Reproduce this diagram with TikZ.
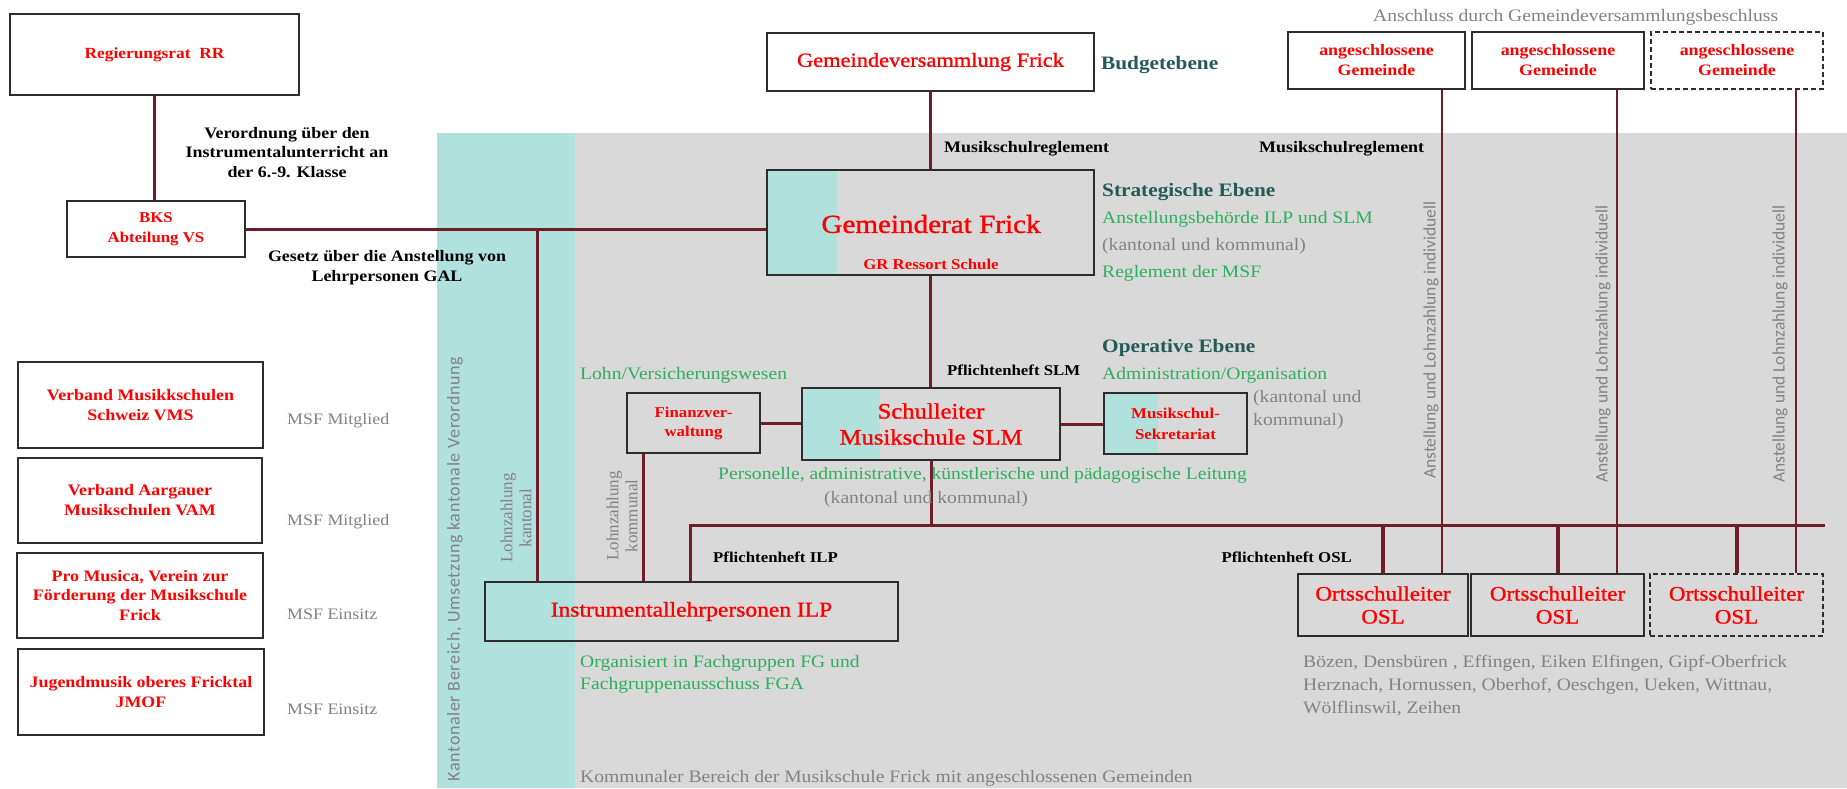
\documentclass[tikz,border=0pt]{standalone}
\usepackage{fontspec}
\setmainfont{Liberation Serif}[FakeStretch=1.12]
\newfontfamily\medf{Liberation Serif}[FakeStretch=1.12, FakeBold=1.2]
\newfontfamily\sansf{Carlito}
\newfontfamily\kantf{Carlito}[LetterSpace=3.5]
\newfontfamily\condf{Liberation Serif}
\newcommand\setfs[2]{\fontsize{#1}{#2}\selectfont}
\definecolor{cred}{RGB}{255,0,0}
\definecolor{cgreen}{RGB}{45,175,95}
\definecolor{cdteal}{RGB}{35,90,85}
\definecolor{cgray}{RGB}{130,130,130}
\definecolor{cline}{RGB}{110,30,40}
\definecolor{cteal}{RGB}{176,225,221}
\definecolor{cbg}{RGB}{217,217,217}
\definecolor{cbox}{RGB}{45,45,45}
\begin{document}
\begin{tikzpicture}[x=1pt,y=-1pt,
  box/.style={draw=cbox, line width=1.5pt, inner sep=0pt, align=center, text=cred},
  wbox/.style={box, fill=white},
  dbox/.style={wbox, dash pattern=on 5pt off 3pt},
  conn/.style={draw=cline, line width=3pt},
  connthin/.style={draw=cline, line width=2pt},
  connthick/.style={draw=cline, line width=4pt},
  txt/.style={inner sep=0pt},
  lbl/.style={inner sep=0pt, anchor=west, align=left},
  blk/.style={txt, font=\bfseries\setfs{16}{19.5}, text=black, align=center},
  grn/.style={lbl, text=cgreen, font=\setfs{17.5}{22}},
  gry/.style={lbl, text=cgray, font=\setfs{17.5}{23}},
  hdr/.style={lbl, text=cdteal, font=\bfseries\setfs{19}{22}},
  smb/.style={font=\bfseries\setfs{16}{20}},
  rot/.style={txt, rotate=90, text=cgray}
]
\useasboundingbox (0,0) rectangle (1847,788);
\fill[white] (0,0) rectangle (1847,788);
% background regions
\fill[cteal] (437,133) rectangle (575,788);
\fill[cbg] (575,133) rectangle (1847,788);
\fill[cteal] (767,170) rectangle (837,275);
\fill[cteal] (802,388) rectangle (880,460);
\fill[cteal] (1104,393) rectangle (1158,454);

% boxes
\node[wbox, minimum width=289, minimum height=81, font=\bfseries\setfs{15.5}{20}] (RR) at (154.5,54.5) {Regierungsrat\ \ RR};
\node[wbox, minimum width=178, minimum height=56, font=\bfseries\setfs{15}{20}] (BKS) at (156,229) {BKS\\Abteilung VS};
\node[wbox, minimum width=327, minimum height=58, font=\medf\setfs{20}{24}] (GV) at (930.5,62) {Gemeindeversammlung Frick};
\node[box, minimum width=327, minimum height=105] (GR) at (930.5,222.5) {};
\node[txt, text=cred, font=\medf\setfs{26}{30}] (GRt) at (931,224) {Gemeinderat Frick};
\node[txt, text=cred, font=\bfseries\setfs{15}{18}] (GRs) at (931,264) {GR Ressort Schule};
\node[box, minimum width=133, minimum height=60, font=\bfseries\setfs{15}{19}] (Fin) at (693.5,423) {Finanzver-\\waltung};
\node[box, minimum width=258, minimum height=72, font=\medf\setfs{22}{26}] (SL) at (931,424) {Schulleiter\\Musikschule SLM};
\node[box, minimum width=143, minimum height=61, font=\bfseries\setfs{15}{21}] (Sek) at (1175.5,423.5) {Musikschul-\\Sekretariat};
\node[box, minimum width=413, minimum height=59, font=\medf\setfs{21}{25}] (ILP) at (691.5,611.5) {Instrumentallehrpersonen ILP};
\node[box, minimum width=170, minimum height=62, font=\medf\setfs{20.5}{23}] (OSL1) at (1383,605) {Ortsschulleiter\\OSL};
\node[box, minimum width=173, minimum height=62, font=\medf\setfs{20.5}{23}] (OSL2) at (1557.5,605) {Ortsschulleiter\\OSL};
\node[box, dash pattern=on 5pt off 3pt, minimum width=173, minimum height=62, font=\medf\setfs{20.5}{23}] (OSL3) at (1736.5,605) {Ortsschulleiter\\OSL};
\node[wbox, smb, minimum width=177, minimum height=57] (AG1) at (1376.5,60.5) {angeschlossene\\Gemeinde};
\node[wbox, smb, minimum width=172, minimum height=57] (AG2) at (1558,60.5) {angeschlossene\\Gemeinde};
\node[dbox, smb, minimum width=172, minimum height=57] (AG3) at (1737,60.5) {angeschlossene\\Gemeinde};
\node[wbox, smb, minimum width=245, minimum height=86] (VMS) at (140.5,405) {Verband Musikkschulen\\Schweiz VMS};
\node[wbox, smb, minimum width=244, minimum height=85] (VAM) at (140,500.5) {Verband Aargauer\\Musikschulen VAM};
\node[wbox, smb, font=\bfseries\setfs{16}{19.5}, minimum width=246, minimum height=85] (PM) at (140,595.5) {Pro Musica, Verein zur\\Förderung der Musikschule\\Frick};
\node[wbox, smb, minimum width=246, minimum height=86] (JM) at (141,692) {Jugendmusik oberes Fricktal\\JMOF};

% connectors
\coordinate (jx) at (537,0);
\coordinate (kx) at (643,0);
\coordinate (busL) at (690,525);
\coordinate (busR) at (1825,525);
\coordinate (a1) at (1442,0);
\coordinate (a2) at (1617,0);
\coordinate (a3) at (1796,0);
\draw[conn] (RR.south) -- (RR.south |- BKS.north);
\draw[conn] (BKS.east) -- (BKS.east -| GR.west);
\draw[conn] (BKS.east -| jx) -- (ILP.north -| jx);
\draw[conn] (GV.south) -- (GR.north);
\draw[conn] (GR.south) -- (GR.south |- SL.north);
\draw[conn] (Fin.east) -- (Fin.east -| SL.west);
\draw[conn] (SL.east) -- (SL.east -| Sek.west);
\draw[conn] (Fin.south -| kx) -- (ILP.north -| kx);
\draw[conn] (SL.south) -- (SL.south |- busR);
\draw[conn] (busR) -- (busL) -- (busL |- ILP.north);
\draw[connthick] (OSL1.north) -- (OSL1.north |- busR);
\draw[connthick] (OSL2.north) -- (OSL2.north |- busR);
\draw[connthick] (OSL3.north) -- (OSL3.north |- busR);
\draw[connthin] (AG1.south -| a1) -- (OSL1.north -| a1);
\draw[connthin] (AG2.south -| a2) -- (OSL2.north -| a2);
\draw[connthin] (AG3.south -| a3) -- (OSL3.north -| a3);

% labels
\node[blk] (verord) at (287,152.5) {Verordnung über den\\Instrumentalunterricht an\\der 6.-9. Klasse};
\node[blk] (gesetz) at (387,267.5) {Gesetz über die Anstellung von\\Lehrpersonen GAL};
\node[lbl, text=cdteal, font=\bfseries\setfs{19}{22}] (budget) at (1101,65) {Budgetebene};
\node[lbl, font=\bfseries\setfs{16}{19}] (msr1) at (944,149) {Musikschulreglement};
\node[lbl, font=\bfseries\setfs{16}{19}] (msr2) at (1259,149) {Musikschulreglement};
\node[hdr] (strat) at (1102,192) {Strategische Ebene};
\node[grn] (anst) at (1102,219) {Anstellungsbehörde ILP und SLM};
\node[gry] (kk1) at (1102,246) {(kantonal und kommunal)};
\node[grn] (regl) at (1102,273) {Reglement der MSF};
\node[hdr] (oper) at (1102,348) {Operative Ebene};
\node[grn] (admin) at (1102,375) {Administration/Organisation};
\node[gry] (kk2) at (1253,410) {(kantonal und\\kommunal)};
\node[lbl, font=\bfseries\setfs{15}{18}] (pslm) at (947,370) {Pflichtenheft SLM};
\node[grn] (lohn) at (580,375) {Lohn/Versicherungswesen};
\node[grn] (pers) at (718,475) {Personelle, administrative, künstlerische und pädagogische Leitung};
\node[txt, text=cgray, font=\setfs{17.5}{22}] (kk3) at (926,499) {(kantonal und kommunal)};
\node[lbl, font=\bfseries\setfs{15}{18}] (pilp) at (713,557) {Pflichtenheft ILP};
\node[txt, anchor=east, font=\bfseries\setfs{15}{18}] (posl) at (1352,557) {Pflichtenheft OSL};
\node[grn] (org) at (580,674) {Organisiert in Fachgruppen FG und\\Fachgruppenausschuss FGA};
\node[gry] (komm) at (580,778) {Kommunaler Bereich der Musikschule Frick mit angeschlossenen Gemeinden};
\node[gry] (orte) at (1303,686) {Bözen, Densbüren , Effingen, Eiken Elfingen, Gipf-Oberfrick\\Herznach, Hornussen, Oberhof, Oeschgen, Ueken, Wittnau,\\Wölflinswil, Zeihen};
\node[gry] (anschl) at (1373,17) {Anschluss durch Gemeindeversammlungsbeschluss};
\node[gry, font=\setfs{16}{20}] (m1) at (287,421) {MSF Mitglied};
\node[gry, font=\setfs{16}{20}] (m2) at (287,522) {MSF Mitglied};
\node[gry, font=\setfs{16}{20}] (m3) at (287,614) {MSF Einsitz};
\node[gry, font=\setfs{16}{20}] (m4) at (287,709) {MSF Einsitz};

% rotated labels
\node[rot, font=\kantf\setfs{18}{20}] (kant) at (455,569) {Kantonaler Bereich, Umsetzung kantonale Verordnung};
\node[rot, align=center, font=\condf\setfs{17}{19}] (lzk) at (516,518) {Lohnzahlung\\kantonal};
\node[rot, align=center, font=\condf\setfs{17}{19}] (lzm) at (622,516) {Lohnzahlung\\kommunal};
\node[rot, font=\sansf\setfs{17.5}{20}] (an1) at (1431,340) {Anstellung und Lohnzahlung individuell};
\node[rot, font=\sansf\setfs{17.5}{20}] (an2) at (1603,344) {Anstellung und Lohnzahlung individuell};
\node[rot, font=\sansf\setfs{17.5}{20}] (an3) at (1780,344) {Anstellung und Lohnzahlung individuell};
\end{tikzpicture}
\end{document}
